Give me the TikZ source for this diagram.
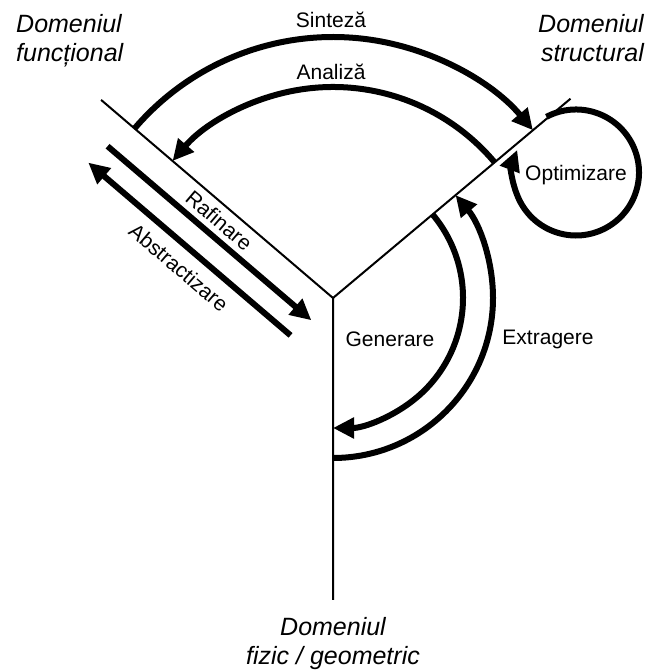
\documentclass[tikz,border=0pt]{standalone}
\usepackage{fontspec}
\setmainfont{Liberation Sans}
\usetikzlibrary{arrows.meta,calc}
\begin{document}
\begin{tikzpicture}[x=1pt,y=1pt,
  axisline/.style={line width=2pt},
  flow/.style={line width=6pt,-{Triangle[length=21pt,width=20pt]}},
  lbl/.style={font=\fontsize{21}{25}\selectfont, inner sep=0pt},
  domname/.style={font=\fontsize{25}{29}\selectfont\itshape, inner sep=0pt}]
\useasboundingbox (0,0) rectangle (650,671);

% the three domain axes of the Y-chart
\coordinate (C) at (333,373);
\coordinate (F) at ($(C)+(139.5:305)$);
\coordinate (S) at ($(C)+(40:310)$);
\coordinate (G) at (333,71);
\draw[axisline] (F) -- (C) -- (S) (C) -- (G);

% transitions between the functional and structural domains
\coordinate (sinA) at ($(C)+(139.5:261)$);
\draw[flow] (sinA) arc[start angle=139.5,end angle=40,radius=261];
\coordinate (anA) at ($(C)+(40:211)$);
\draw[flow] (anA) arc[start angle=40,end angle=139.5,radius=211];

% transitions between the structural and physical domains
\coordinate (genA) at ($(C)+(40:130)$);
\draw[flow] (genA) arc[start angle=40,end angle=-90,radius=130];
\coordinate (extA) at ($(C)+(-90:160)$);
\draw[flow] (extA) arc[start angle=-90,end angle=40,radius=160];

% optimisation loop inside the structural domain
\coordinate (O) at (576,498.5);
\coordinate (optA) at ($(O)+(118:63)$);
\draw[flow] (optA) arc[start angle=118,end angle=-201,radius=63];

% refinement / abstraction along the functional axis
\coordinate (rafA) at ($(C)+(139.5:270)+(229.5:31)$);
\coordinate (rafB) at ($(C)+(139.5:2)+(229.5:31)$);
\draw[flow] (rafA) -- (rafB);
\coordinate (absA) at ($(C)+(139.5:8)+(229.5:56)$);
\coordinate (absB) at ($(C)+(139.5:274)+(229.5:56)$);
\draw[flow] (absA) -- (absB);

% labels
\node[lbl] (sin) at (331,651) {Sinteză};
\node[lbl] (an) at (331,599) {Analiză};
\node[lbl] (gen) at (390,332) {Generare};
\node[lbl] (ext) at (548,332) {Extragere};
\node[lbl] (opt) at (576,496) {Optimizare};
\node[lbl, rotate=-40.5] (raf) at ($(C)+(139.5:137)+(229.5:15)$) {Rafinare};
\node[lbl, rotate=-40.5] (abs) at ($(C)+(139.5:137)+(229.5:77)$) {Abstractizare};

% domain names
\node[domname, align=left, anchor=north west] (df) at (16,656.5) {Domeniul\\funcțional};
\node[domname, align=right, anchor=north east] (ds) at (644,656.5) {Domeniul\\structural};
\node[domname, align=center, anchor=south] (dg) at (333,1) {Domeniul\\fizic / geometric};
\end{tikzpicture}
\end{document}
